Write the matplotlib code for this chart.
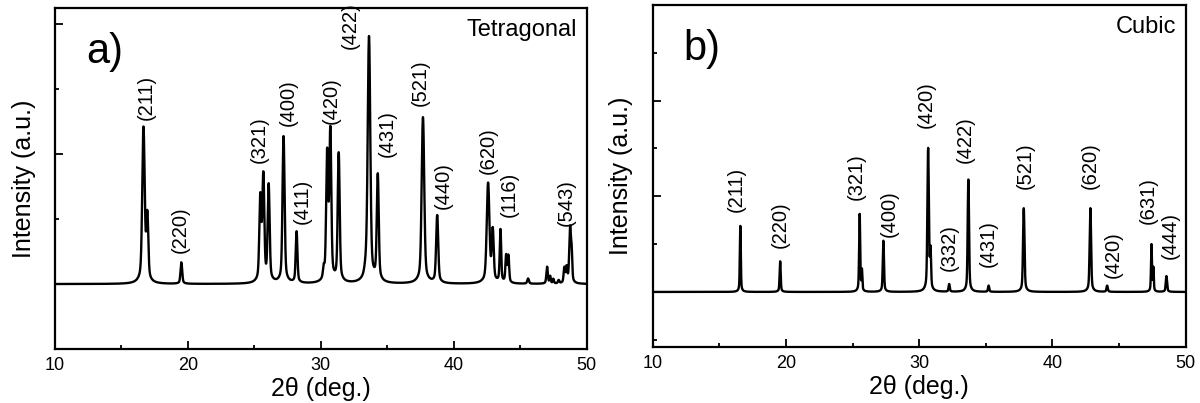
import matplotlib.pyplot as plt
import numpy as np
from matplotlib.ticker import MultipleLocator

plt.rcParams['font.family'] = ['Liberation Sans', 'DejaVu Sans']

# Tetragonal pattern: peak positions (2theta), heights (a.u.), widths (deg.)
tet_pos = [16.66, 16.95, 19.51, 25.45, 25.68, 26.08, 27.20, 28.18, 30.22, 30.48, 30.72, 31.35,
           33.40, 33.63, 34.29, 37.69, 38.76, 42.59, 42.94, 43.52, 43.95, 44.12, 45.60,
           47.03, 47.26, 47.50, 47.90, 48.33, 48.50, 48.76, 48.88]
tet_h = [2.38, 0.98, 0.33, 1.28, 1.60, 1.48, 2.26, 0.79, 0.15, 1.93, 2.28, 1.98,
         0.11, 3.78, 1.63, 2.56, 1.04, 1.53, 0.78, 0.81, 0.41, 0.41, 0.08,
         0.26, 0.11, 0.07, 0.05, 0.23, 0.23, 0.85, 0.41]
tet_w = [0.20, 0.16, 0.14, 0.16, 0.16, 0.16, 0.17, 0.14, 0.12, 0.16, 0.16, 0.16,
         0.22, 0.21, 0.16, 0.21, 0.17, 0.22, 0.16, 0.12, 0.12, 0.12, 0.14,
         0.12, 0.10, 0.10, 0.12, 0.12, 0.12, 0.14, 0.10]
tet_labels = ['(211)', '(220)', '(321)', '(400)', '(411)', '(420)', '(422)', '(431)',
              '(521)', '(440)', '(620)', '(116)', '(543)']
tet_lx = [16.86, 19.40, 25.36, 27.52, 28.62, 30.78, 32.22, 35.01, 37.46, 39.19, 42.59, 44.15, 48.50]
tet_ly = [2.87, 0.83, 2.22, 2.79, 1.27, 2.83, 3.98, 2.31, 3.10, 1.52, 2.05, 1.38, 1.26]

# Cubic pattern
cub_pos = [16.57, 19.56, 25.53, 25.70, 27.31, 30.67, 30.85, 32.25, 33.69, 35.21, 37.85,
           42.85, 44.11, 47.44, 47.58, 48.56]
cub_h = [1.38, 0.64, 1.62, 0.42, 1.07, 2.98, 0.78, 0.16, 2.35, 0.13, 1.75,
         1.75, 0.13, 0.98, 0.48, 0.33]
cub_w = [0.08, 0.09, 0.09, 0.07, 0.10, 0.12, 0.09, 0.10, 0.11, 0.10, 0.12,
         0.12, 0.11, 0.08, 0.07, 0.11]
cub_labels = ['(211)', '(220)', '(321)', '(400)', '(420)', '(332)', '(422)', '(431)',
              '(521)', '(620)', '(420)', '(631)', '(444)']
cub_lx = [16.26, 19.56, 25.25, 27.74, 30.53, 32.25, 33.49, 35.21, 37.99, 42.82, 44.54, 47.18, 48.85]
cub_ly = [2.14, 1.40, 2.40, 1.64, 3.92, 0.92, 3.18, 1.02, 2.63, 2.63, 0.78, 1.92, 1.19]

tt = np.linspace(10, 50, 8000)


def pattern(pos, h, w):
    y = np.zeros_like(tt)
    for p, a, s in zip(pos, h, w):
        g = np.exp(-4 * np.log(2) * ((tt - p) / s) ** 2)
        l = 1 / (1 + 4 * ((tt - p) / (2.0 * s)) ** 2)
        y += a * (0.8 * g + 0.2 * l)
    return y


fig = plt.figure(figsize=(12, 4.03), dpi=100)
ax1 = fig.add_axes([0.0458, 0.134, 0.443, 0.846])
ax2 = fig.add_axes([0.544, 0.139, 0.444, 0.849])

panels = [
    (ax1, tet_pos, tet_h, tet_w, tet_labels, tet_lx, tet_ly, (-1, 4.25), 'a)', 'Tetragonal'),
    (ax2, cub_pos, cub_h, cub_w, cub_labels, cub_lx, cub_ly, (-1.15, 6.0), 'b)', 'Cubic'),
]

for ax, pos, h, w, labs, lx, ly, ylim, tag, name in panels:
    ax.plot(tt, pattern(pos, h, w), color='black', lw=1.7)
    for t, x, y in zip(labs, lx, ly):
        ax.text(x, y, t, rotation=90, ha='center', va='center', fontsize=14.5)
    ax.set_xlim(10, 50)
    ax.set_ylim(*ylim)
    ax.xaxis.set_major_locator(MultipleLocator(10))
    ax.xaxis.set_minor_locator(MultipleLocator(5))
    ax.yaxis.set_major_locator(MultipleLocator(2))
    ax.yaxis.set_minor_locator(MultipleLocator(1))
    ax.tick_params(which='both', direction='in', top=False, right=False, labelsize=13,
                   width=1.3, pad=6)
    ax.tick_params(which='major', length=6)
    ax.tick_params(which='minor', length=3)
    ax.tick_params(axis='y', which='both', labelleft=False)
    for sp in ax.spines.values():
        sp.set_linewidth(1.6)
    ax.set_xlabel('2\u03b8 (deg.)', fontsize=18, labelpad=2)
    ax.set_ylabel('Intensity (a.u.)', fontsize=18, labelpad=14)
    ax.text(0.058, 0.87, tag, transform=ax.transAxes, fontsize=30, va='center', ha='left')
    ax.text(0.982, 0.935, name, transform=ax.transAxes, fontsize=17, va='center', ha='right')

fig.savefig('out.png', dpi=100)
